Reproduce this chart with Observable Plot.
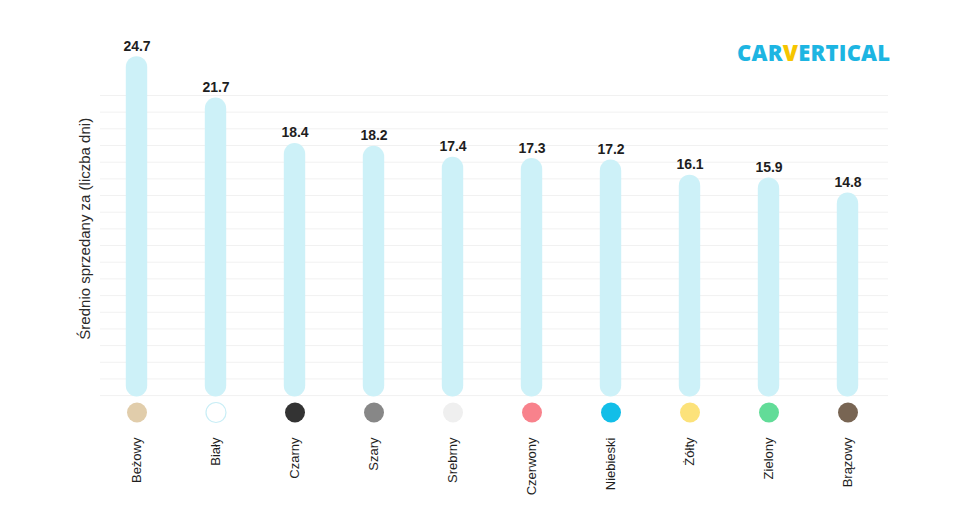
<!DOCTYPE html>
<html>
<head>
<meta charset="utf-8">
<script src="https://cdn.jsdelivr.net/npm/d3@7"></script>
<script src="https://cdn.jsdelivr.net/npm/@observablehq/plot@0.6"></script>
<style>
  html, body { margin: 0; padding: 0; background: #fff; }
  #wrap { position: relative; width: 959px; height: 505px; font-family: "Liberation Sans", Arial, sans-serif; }
  #logo { position: absolute; left: 737px; top: 37px; font-family: "Open Sans", "Liberation Sans", Arial, sans-serif; font-weight: 800; font-size: 22px; letter-spacing: 0.2px; color: #1db5e2; }
  #logo .v { color: #f6c500; }
</style>
</head>
<body>
<div id="wrap">
  <div id="logo">CAR<span class="v">V</span>ERTICAL</div>
</div>
<script>
const colors = ["Beżowy", "Biały", "Czarny", "Szary", "Srebrny", "Czerwony", "Niebieski", "Żółty", "Zielony", "Brązowy"];
const days = [24.7, 21.7, 18.4, 18.2, 17.4, 17.3, 17.2, 16.1, 15.9, 14.8];
const swatches = ["#e1cdab", "#ffffff", "#333333", "#878787", "#efefef", "#f8828c", "#12bee8", "#fce27a", "#62dc98", "#786553"];
const swatchStrokes = ["none", "#c9eef6", "none", "none", "none", "none", "none", "none", "none", "none"];
const gridTicks = [0.1, 1.31, 2.52, 3.73, 4.94, 6.15, 7.36, 8.57, 9.78, 10.99, 12.2, 13.41, 14.62, 15.83, 17.04, 18.25, 19.46, 20.67, 21.88];
const yLabel = "Średnio sprzedany za (liczba dni)";

const data = colors.map((c, i) => ({color: c, days: days[i], swatch: swatches[i], stroke: swatchStrokes[i]}));

const chart = Plot.plot({
  width: 959,
  height: 505,
  marginLeft: 94,
  marginRight: 69,
  marginTop: 52,
  marginBottom: 108.5,
  style: {fontFamily: "'Liberation Sans', Arial, sans-serif", background: "transparent"},
  x: {domain: colors, padding: 0, axis: null},
  y: {domain: [0, 25], axis: null},
  marks: [
    Plot.ruleY(gridTicks, {y: d => d, stroke: "#f1f1f1", strokeWidth: 1, insetLeft: 6, insetRight: 2}),
    Plot.barY(data, {x: "color", y: "days", fill: "#cdf1f8", insetLeft: 28.8, insetRight: 28.8, rx: 11, ry: 11}),
    Plot.text(data, {x: "color", y: "days", text: d => d.days.toFixed(1), dy: -6, lineAnchor: "bottom", fontWeight: "bold", fontSize: 14, fill: "#1e1e1e"}),
    Plot.dot(data, {x: "color", y: () => 0, dy: 15.5, r: 10, fill: "swatch", stroke: "stroke", strokeWidth: 1.2}),
    Plot.text(data, {x: "color", y: () => 0, text: "color", rotate: -90, textAnchor: "end", dy: 40.5, fontSize: 13, fill: "#1e1e1e"}),
    Plot.text([yLabel], {text: d => d, frameAnchor: "left", rotate: -90, textAnchor: "middle", dx: -9, dy: 4, fontSize: 15, fill: "#2a2a2a"})
  ]
});
document.getElementById("wrap").appendChild(chart);
chart.style.position = "absolute";
chart.style.left = "0";
chart.style.top = "0";
</script>
</body>
</html>
